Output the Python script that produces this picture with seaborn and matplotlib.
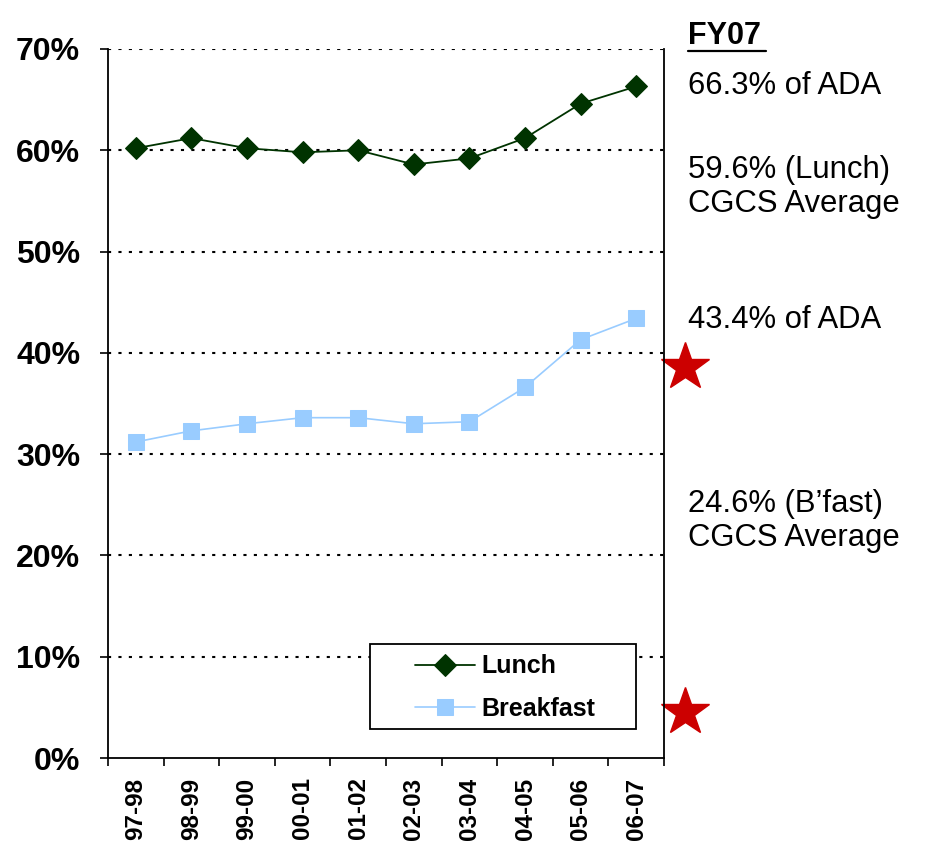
import numpy as np
import pandas as pd
import seaborn as sns
import matplotlib.pyplot as plt
from matplotlib.patches import Rectangle

# Dados
anos = ['97-98', '98-99', '99-00', '00-01', '01-02', '02-03', '03-04', '04-05', '05-06', '06-07']
almoco = [60.2, 61.2, 60.2, 59.8, 60.0, 58.6, 59.2, 61.2, 64.6, 66.3]
cafe = [31.2, 32.3, 33.0, 33.6, 33.6, 33.0, 33.2, 36.6, 41.3, 43.4]
notas = ['66.3% of ADA', '59.6% (Lunch)\nCGCS Average', '43.4% of ADA', '24.6% (B\u2019fast)\nCGCS Average']

dados = pd.DataFrame({'pos': np.arange(len(anos)), 'Lunch': almoco, 'Breakfast': cafe})

sns.set_style('white')
plt.rcParams['font.family'] = ['Liberation Sans', 'DejaVu Sans']
plt.rcParams['text.color'] = 'black'
plt.rcParams['xtick.color'] = 'black'
plt.rcParams['ytick.color'] = 'black'

fig = plt.figure(figsize=(9.27, 8.43), dpi=100)
ax = fig.add_axes([0.1165, 0.1008, 0.5998, 0.8411])

# Linhas de grade pontilhadas
for v in range(10, 80, 10):
    ax.axhline(v, color='black', linestyle=(0, (1.5, 3.5)), linewidth=1.5, zorder=1)

sns.lineplot(x='pos', y='Lunch', data=dados, ax=ax, color='#003300', marker='D',
             markersize=11, markeredgecolor='#003300', linewidth=1.3, label='Lunch', zorder=3)
sns.lineplot(x='pos', y='Breakfast', data=dados, ax=ax, color='#99CCFF', marker='s',
             markersize=11, markeredgecolor='#99CCFF', linewidth=1.2, label='Breakfast', zorder=3)

ax.set_xlim(-0.5, len(anos) - 0.5)
ax.set_ylim(0, 70)
ax.set_xlabel('')
ax.set_ylabel('')

ax.set_yticks(range(0, 80, 10))
ax.set_yticklabels([f'{v}%' for v in range(0, 80, 10)], fontsize=23, fontweight='bold')
ax.tick_params(axis='y', direction='out', length=6, width=1.2, left=True, pad=14)

ax.set_xticks(np.arange(len(anos)))
ax.set_xticklabels(anos, rotation=90, fontsize=17.5, fontweight='bold')
ax.set_xticks(np.arange(-0.5, len(anos)), minor=True)
ax.tick_params(axis='x', which='major', length=0, pad=14)
ax.tick_params(axis='x', which='minor', direction='out', length=6, width=1.2, bottom=True)

for lado in ['left', 'bottom', 'right']:
    ax.spines[lado].set_color('black')
    ax.spines[lado].set_linewidth(1.3)
ax.spines['top'].set_visible(False)

# Caixa da legenda
ax.add_patch(Rectangle((0.471, 0.041), 0.479, 0.12, transform=ax.transAxes,
                       facecolor='white', edgecolor='black', linewidth=1.3, zorder=4))
leg = ax.legend(loc='center left', bbox_to_anchor=(0.553, 0.099),
                prop={'weight': 'bold', 'size': 18}, frameon=False,
                handlelength=2.4, borderpad=0, labelspacing=0.75,
                borderaxespad=0, handletextpad=0.25)
leg.set_zorder(5)
for t in leg.get_texts():
    t.set_color('black')

# Estrelas vermelhas fora da área do gráfico
ax.plot([1.038, 1.038], [38.6, 4.5], linestyle='none', marker='*', markersize=36,
        color='#CC0000', transform=ax.get_yaxis_transform(), clip_on=False)

# Textos à direita
fig.text(0.742, 0.957, 'FY07', fontsize=22, fontweight='bold', ha='left', va='center')
fig.add_artist(plt.Line2D([0.742, 0.826], [0.94, 0.94], color='black', linewidth=1.6))
fig.text(0.742, 0.898, notas[0], fontsize=22.3, ha='left', va='center')
fig.text(0.742, 0.778, notas[1], fontsize=22.3, ha='left', va='center', linespacing=1.15)
fig.text(0.742, 0.62, notas[2], fontsize=22.3, ha='left', va='center')
fig.text(0.742, 0.382, notas[3], fontsize=22.3, ha='left', va='center', linespacing=1.15)

fig.savefig('out.png', dpi=100)
